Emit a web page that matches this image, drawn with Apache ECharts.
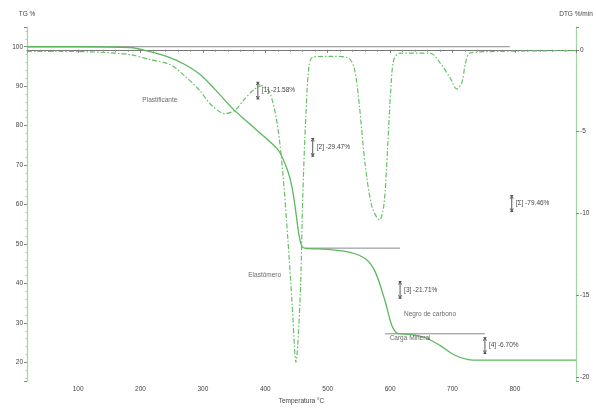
<!DOCTYPE html>
<html>
<head>
<meta charset="utf-8">
<script src="https://cdn.jsdelivr.net/npm/echarts@6/dist/echarts.min.js"></script>
<style>
  html, body { margin: 0; padding: 0; background: #fff; }
  #chart { width: 596px; height: 410px; }
</style>
</head>
<body>
<div id="chart"></div>
<script>
// Temperature (°C) and TG mass (%)
const tgTemp = [18, 100, 183, 215, 247, 271, 295, 319, 348, 371, 391, 407, 423, 436, 443, 449, 454, 459, 465, 504, 536, 560, 576, 592, 603, 613, 632, 656, 680, 704, 725, 744, 898];
const tgMass = [100, 100, 99.8, 98.75, 97.25, 95.5, 93, 89.25, 84.25, 81, 78.2, 76, 73.25, 68.5, 64.25, 58, 52.25, 49.3, 48.9, 48.6, 47.9, 46.3, 43, 35.5, 29.3, 27.3, 27.1, 26.3, 24.3, 21.8, 20.7, 20.55, 20.55];

// Temperature (°C) and DTG rate (%/min)
const dtgTemp = [18, 71, 135, 183, 215, 247, 271, 295, 314, 335, 351, 367, 383, 395, 407, 419, 428, 436, 443, 449, 456, 460, 465, 470, 476, 504, 533, 543, 551, 560, 571, 583, 590, 596, 601, 606, 616, 664, 680, 696, 707, 715, 721, 728, 776, 898];
const dtgRate = [-0.1, -0.1, -0.15, -0.3, -0.6, -0.9, -1.6, -2.5, -3.4, -3.9, -3.7, -3.0, -2.4, -2.2, -2.6, -4.5, -7.5, -11.5, -15.5, -19.1, -15, -9, -4, -1.0, -0.45, -0.4, -0.5, -1.2, -3.5, -7.0, -9.6, -10.4, -9.5, -6.0, -2.5, -0.6, -0.2, -0.2, -0.8, -1.7, -2.4, -2.0, -0.8, -0.2, -0.1, -0.05];

// Mass-loss steps (%)
const stepLoss = [21.58, 29.47, 21.71, 6.70];
// Plateau reference lines: which plateau level, and temperature span
const plateauLevel = [0, 2, 3];
const plateauSpan = [[18, 792], [464, 616], [592, 752]];

// Step brackets: temperature, top and bottom (TG %)
const bracketTemp = [388, 476, 616, 752, 795];
const bracketTop = [91, 76.75, 40.5, 26.25, 62.25];
const bracketBottom = [86.75, 72.25, 36.25, 22.25, 58.25];

// Component names and their positions (temperature, TG %)
const compNames = ['Plastificante', 'Elastômero', 'Negro de carbono', 'Carga Mineral'];
const compTemp = [231, 399, 664, 632];
const compMass = [86.5, 42, 32.25, 26];

const xTicks = [100, 200, 300, 400, 500, 600, 700, 800];

// Plateau levels and step labels built from the step losses
const levels = [100];
stepLoss.forEach(s => levels.push(+(levels[levels.length - 1] - s).toFixed(2)));
const totalLoss = stepLoss.reduce((a, b) => a + b, 0);
const stepTexts = stepLoss.map((s, i) => '[' + (i + 1) + '] -' + s.toFixed(2) + '%');
stepTexts.push('[Σ] -' + totalLoss.toFixed(2) + '%');

const green = '#5cb85c';
const axisGreen = '#9fd89f';
const txt = '#444';
const font = 'Liberation Sans';
const fs = 6.5;

const refSeries = plateauSpan.map((span, i) => ({
  type: 'line',
  yAxisIndex: 0,
  data: [[span[0], levels[plateauLevel[i]]], [span[1], levels[plateauLevel[i]]]],
  symbol: 'none',
  silent: true,
  lineStyle: { color: '#8a8a8a', width: 1 },
  z: 1
}));

const bracketData = bracketTemp.map((t, i) => [t, bracketTop[i], bracketBottom[i], i]);

const chart = echarts.init(document.getElementById('chart'), null, { renderer: 'canvas' });
chart.setOption({
  animation: false,
  grid: { left: 27, right: 20, top: 27, bottom: 24 },
  xAxis: {
    type: 'value',
    min: 18,
    max: 898,
    splitNumber: 9,
    name: 'Temperatura °C',
    nameLocation: 'middle',
    nameGap: 16,
    nameTextStyle: { fontSize: fs, color: txt, fontFamily: font },
    axisLine: { lineStyle: { color: '#777', width: 1 } },
    axisTick: { show: true, length: 3, lineStyle: { color: '#777' } },
    minorTick: { show: true, splitNumber: 5, length: 2, lineStyle: { color: '#888' } },
    axisLabel: {
      fontSize: fs, color: txt, fontFamily: font, margin: 5,
      showMinLabel: false, showMaxLabel: false,
      formatter: v => xTicks.includes(v) ? String(v) : ''
    },
    splitLine: { show: false }
  },
  yAxis: [
    {
      type: 'value',
      min: 15.25,
      max: 105,
      splitNumber: 9,
      name: 'TG %',
      nameLocation: 'end',
      nameGap: 9,
      nameTextStyle: { fontSize: fs, color: txt, fontFamily: font, align: 'center' },
      axisLine: { show: true, lineStyle: { color: axisGreen, width: 1.2 } },
      axisTick: { show: true, length: 3, lineStyle: { color: '#888' } },
      minorTick: { show: true, splitNumber: 5, length: 1.5, lineStyle: { color: axisGreen } },
      axisLabel: {
        fontSize: fs, color: txt, fontFamily: font, margin: 4,
        showMinLabel: false, showMaxLabel: false,
        formatter: v => (v % 10 === 0 && v >= 20 && v <= 100) ? String(v) : ''
      },
      splitLine: { show: false }
    },
    {
      type: 'value',
      min: -20.24,
      max: 1.39,
      splitNumber: 4,
      name: 'DTG %/min',
      nameLocation: 'end',
      nameGap: 9,
      nameTextStyle: { fontSize: fs, color: txt, fontFamily: font, align: 'center' },
      position: 'right',
      axisLine: { show: true, lineStyle: { color: axisGreen, width: 1.2 } },
      axisTick: { show: true, length: 3, lineStyle: { color: '#888' } },
      minorTick: { show: true, splitNumber: 5, length: 1.5, lineStyle: { color: axisGreen } },
      axisLabel: {
        fontSize: fs, color: txt, fontFamily: font, margin: 4,
        showMinLabel: false, showMaxLabel: false,
        formatter: v => (v % 5 === 0) ? String(v) : ''
      },
      splitLine: { show: false }
    }
  ],
  series: [
    ...refSeries,
    {
      name: 'DTG',
      type: 'line',
      yAxisIndex: 1,
      data: dtgTemp.map((t, i) => [t, dtgRate[i]]),
      symbol: 'none',
      smooth: 0.3,
      lineStyle: { color: '#66bf66', width: 1.2, type: [5, 2, 1.5, 2] },
      z: 3
    },
    {
      name: 'TG',
      type: 'line',
      yAxisIndex: 0,
      data: tgTemp.map((t, i) => [t, tgMass[i]]),
      symbol: 'none',
      smooth: 0.3,
      lineStyle: { color: green, width: 1.3 },
      z: 4
    },
    {
      name: 'steps',
      type: 'custom',
      yAxisIndex: 0,
      data: bracketData,
      z: 5,
      renderItem: (params, api) => {
        const top = api.coord([api.value(0), api.value(1)]);
        const bot = api.coord([api.value(0), api.value(2)]);
        const x = top[0];
        const ln = (x1, y1, x2, y2) => ({
          type: 'line',
          shape: { x1, y1, x2, y2 },
          style: { stroke: '#555', lineWidth: 1 }
        });
        return {
          type: 'group',
          children: [
            ln(x, top[1], x, bot[1]),
            ln(x - 1.5, top[1], x + 1.5, top[1]),
            ln(x - 1.5, bot[1], x + 1.5, bot[1]),
            ln(x - 1.5, top[1] + 3, x, top[1]),
            ln(x + 1.5, top[1] + 3, x, top[1]),
            ln(x - 1.5, bot[1] - 3, x, bot[1]),
            ln(x + 1.5, bot[1] - 3, x, bot[1]),
            {
              type: 'text',
              style: {
                x: x + 4,
                y: (top[1] + bot[1]) / 2,
                text: stepTexts[api.value(3)],
                fontSize: fs,
                fontFamily: font,
                fill: txt,
                verticalAlign: 'middle'
              }
            }
          ]
        };
      }
    },
    {
      name: 'components',
      type: 'scatter',
      yAxisIndex: 0,
      data: compTemp.map((t, i) => ({ value: [t, compMass[i]], name: compNames[i] })),
      symbolSize: 0,
      silent: true,
      label: {
        show: true,
        position: 'inside',
        formatter: p => p.name,
        fontSize: fs,
        fontFamily: font,
        color: txt
      },
      z: 5
    }
  ]
});
</script>
</body>
</html>
